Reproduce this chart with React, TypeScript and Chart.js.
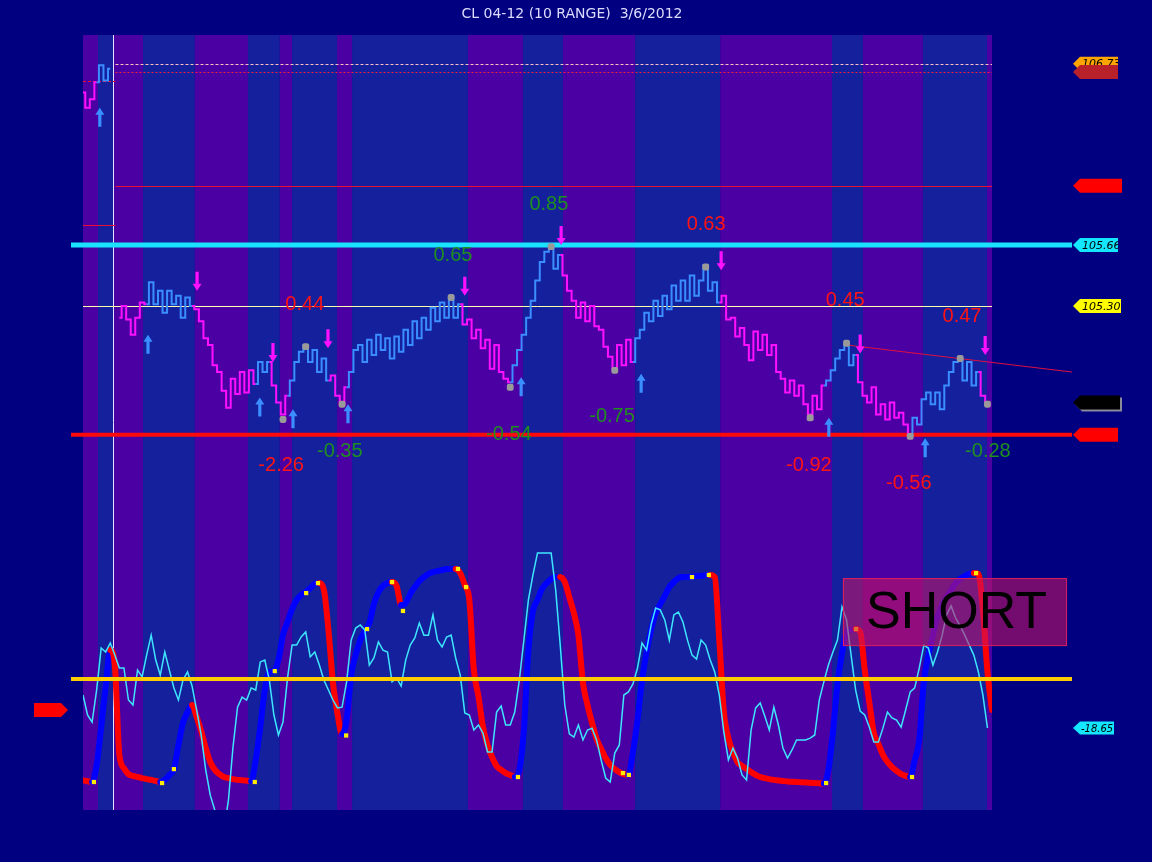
import React, { useEffect, useRef } from 'react';
import { Chart, registerables } from 'chart.js';
Chart.register(...registerables);

const TITLE = 'CL 04-12 (10 RANGE)  3/6/2012';

// price range bars (close per bar), null = session gap
const priceValues: (number | null)[] = [
  106.56, 106.47, 106.52, 106.62, 106.72, 106.63, 106.70, null, 105.23, 105.30,
  105.22, 105.13, 105.23, 105.32, 105.31, 105.44, 105.31, 105.39, 105.26, 105.39,
  105.31, 105.36, 105.23, 105.35, 105.30, 105.28, 105.21, 105.11, 105.07, 104.95,
  104.91, 104.80, 104.70, 104.87, 104.78, 104.91, 104.79, 104.92, 104.84, 104.97,
  104.91, 104.97, 104.83, 104.73, 104.66, 104.77, 104.86, 104.97, 105.03, 105.07,
  104.97, 105.04, 104.91, 104.99, 104.86, 104.89, 104.77, 104.72, 104.82, 104.91,
  105.04, 105.07, 104.97, 105.10, 105.01, 105.13, 105.04, 105.11, 104.99, 105.12,
  105.03, 105.16, 105.07, 105.21, 105.11, 105.23, 105.16, 105.29, 105.21, 105.32,
  105.23, 105.35, 105.23, 105.31, 105.19, 105.22, 105.11, 105.16, 105.05, 105.10,
  104.93, 105.07, 104.91, 104.87, 104.85, 104.95, 105.04, 105.13, 105.23, 105.33,
  105.45, 105.56, 105.62, 105.65, 105.52, 105.60, 105.48, 105.39, 105.33, 105.23,
  105.32, 105.21, 105.30, 105.18, 105.16, 105.06, 105.00, 104.93, 105.07, 104.95,
  105.10, 104.97, 105.11, 105.16, 105.26, 105.21, 105.33, 105.24, 105.36, 105.28,
  105.42, 105.33, 105.45, 105.33, 105.48, 105.36, 105.45, 105.54, 105.39, 105.44,
  105.32, 105.36, 105.22, 105.23, 105.12, 105.17, 105.07, 104.98, 105.15, 105.04,
  105.13, 105.01, 105.07, 104.91, 104.87, 104.79, 104.86, 104.77, 104.83, 104.72,
  104.66, 104.77, 104.69, 104.83, 104.86, 104.92, 104.99, 105.04, 105.08, 104.95,
  105.01, 104.85, 104.77, 104.73, 104.82, 104.66, 104.72, 104.63, 104.73, 104.64,
  104.67, 104.60, 104.54, 104.64, 104.60, 104.75, 104.79, 104.72, 104.79, 104.69,
  104.83, 104.91, 104.97, 104.99, 104.86, 104.97, 104.83, 104.91, 104.77, 104.72,
];

// bars in down-trend (magenta)
const downRanges: [number, number][] = [
  [1, 3], [9, 14], [25, 38], [42, 45], [55, 58], [84, 94], [106, 121], [141, 163], [171, 182], [198, 199],
];

// session colour breaks (bar units)
const sessionBreaks = [0, 3.3, 6.6, 13.2, 24.6, 36.3, 43.3, 46.0, 55.9, 59.2, 84.7, 96.8, 105.6, 121.5, 140.2, 164.8, 171.6, 184.8, 198.9, 200];

// swing pivots
const pivotBars = [44, 49, 57, 81, 94, 103, 117, 137, 160, 168, 182, 193, 199];
const pivotPrices = [104.63, 105.06, 104.72, 105.35, 104.82, 105.65, 104.92, 105.53, 104.64, 105.08, 104.53, 104.99, 104.72];

// swing labels
const swingLabels = ['0.44', '-2.26', '-0.35', '0.65', '-0.54', '0.85', '-0.75', '0.63', '-0.92', '0.45', '-0.56', '0.47', '-0.28'];
const swingLabelBars = [48.8, 43.6, 56.5, 81.4, 93.7, 102.5, 116.4, 137.1, 159.7, 167.7, 181.7, 193.4, 199.1];
const swingLabelPrices = [105.31, 104.36, 104.44, 105.60, 104.54, 105.90, 104.645, 105.78, 104.36, 105.335, 104.255, 105.24, 104.44];
const swingLabelUp = [false, false, true, true, true, true, true, false, false, false, false, false, true];

// signal arrows
const upArrowBars = [3.7, 14.3, 38.9, 46.2, 58.3, 96.4, 122.8, 164.1, 185.3];
const upArrowPrices = [106.47, 105.13, 104.76, 104.69, 104.72, 104.88, 104.90, 104.64, 104.52];
const downArrowBars = [25.1, 41.8, 53.9, 84.0, 105.2, 140.4, 171.0, 198.5];
const downArrowPrices = [105.39, 104.97, 105.05, 105.36, 105.66, 105.51, 105.02, 105.01];

// horizontal price levels
const priceLevels = [105.66, 104.54, 105.30, 106.01, 106.73, 106.68, 105.78, 106.63];

// trend line
const trendBars = [167.9, 217.6];
const trendPrices = [105.07, 104.91];

// right-hand price tags
const priceTagValues = [106.73, 106.68, 106.01, 105.66, 105.30, 104.73, 104.54];
const priceTagTexts = ['106.73', '', '', '105.66', '105.30', '', ''];

// oscillator (thin cyan)
const oscValues = [
  -6.1, -13.7, -16.4, -4.2, 11.8, 10.3, 13.7, 9.1, 4.2, 4.2,
  -8.0, -9.9, 3.4, 0.8, 9.1, 16.7, 7.2, 1.5, 10.3, 3.4,
  -3.4, -8.0, -0.4, 2.7, -2.7, -11.8, -21.3, -34.6, -44.2, -49.9,
  -57.5, -57.5, -46.1, -25.9, -10.7, -6.9, -8.0, -3.4, -4.2, 6.5,
  7.2, -0.4, -13.7, -21.3, -16.4, 0.4, 12.9, 12.9, 16.0, 17.9,
  8.4, 10.3, 5.3, -0.4, -4.2, -8.0, -11.0, -10.7, -1.1, 14.8,
  19.4, 20.6, 18.7, 5.3, 8.0, 14.1, 11.0, 10.3, -1.1, 0.4,
  -2.7, 7.2, 12.9, 15.6, 21.3, 16.7, 16.7, 24.4, 14.8, 12.2,
  16.0, 16.7, 8.0, 1.5, -12.9, -13.7, -19.4, -17.5, -20.6, -27.8,
  -27.8, -12.6, -10.3, -17.5, -17.5, -12.6, -0.4, 14.8, 30.1, 39.6,
  48.0, 48.0, 48.0, 48.0, 33.9, 12.9, -9.9, -20.9, -22.1, -17.5,
  -23.2, -19.4, -18.7, -23.2, -30.8, -37.7, -39.2, -28.2, -25.1, -6.1,
  -4.9, -1.9, 4.2, 13.7, 11.0, 20.6, 27.0, 26.3, 22.5, 14.8,
  24.4, 25.5, 21.7, 14.8, 9.1, 7.6, 14.8, 12.9, 7.2, 2.7,
  -6.1, -20.2, -30.8, -26.3, -30.1, -36.5, -38.4, -19.4, -11.0, -9.1,
  -14.1, -19.4, -10.7, -17.5, -26.3, -30.1, -27.0, -23.2, -23.2, -23.2,
  -22.5, -21.3, -8.0, -1.1, 5.3, 10.3, 14.8, 27.4, 22.5, 9.1,
  -4.2, -12.2, -13.7, -18.3, -24.0, -24.0, -18.7, -12.6, -14.8, -15.6,
  -18.3, -11.8, -4.9, -3.4, 4.2, 12.9, 11.8, 5.3, 10.3, 16.4,
  24.4, 27.8, 23.2, 20.2, 16.7, 12.9, 9.1, 2.7, -6.1, -18.65,
];

// smoothed signal (thick blue/red)
const signalValues = [
  -38.6, -38.9, -39.2, -32.7, -18.3, -2.7, 11.0, 5.3, -28.9, -33.9,
  -36.2, -36.9, -37.3, -37.7, -38.1, -38.4, -38.8, -39.2, -38.4, -36.5,
  -34.3, -25.1, -16.7, -12.6, -9.9, -14.5, -19.8, -26.3, -31.6, -34.6,
  -36.2, -37.3, -37.7, -38.1, -38.4, -38.5, -38.7, -38.9, -30.8, -18.3,
  -4.2, 2.7, 3.0, 7.2, 16.7, 21.7, 26.6, 30.1, 32.0, 33.1,
  34.6, 36.2, 36.5, 33.9, 18.7, -1.5, -13.3, -21.0, -15.6, 1.5,
  9.1, 14.8, 18.3, 21.3, 28.5, 33.1, 35.4, 36.5, 36.9, 35.4,
  28.2, 28.9, 32.4, 35.0, 37.3, 38.8, 40.0, 40.7, 41.1, 41.5,
  41.9, 41.9, 41.9, 40.3, 35.8, 30.1, 3.4, -6.5, -18.3, -25.1,
  -29.7, -33.1, -34.6, -35.8, -36.5, -37.3, -34.6, -19.4, 11.0, 25.9,
  30.1, 34.3, 36.5, 38.1, 38.8, 38.8, 36.9, 31.2, 25.1, 16.7,
  -1.5, -9.9, -16.7, -22.8, -26.6, -30.1, -32.7, -34.3, -35.4, -36.2,
  -36.5, -27.8, -15.6, -0.4, 10.3, 18.7, 25.1, 28.5, 31.6, 35.0,
  36.9, 38.4, 38.8, 38.8, 38.8, 39.2, 39.2, 39.6, 39.6, 38.8,
  14.8, -12.6, -22.5, -27.8, -31.6, -33.1, -34.3, -35.4, -36.5, -37.3,
  -37.7, -38.1, -38.4, -38.6, -38.8, -39.0, -39.1, -39.2, -39.3, -39.4,
  -39.5, -39.6, -39.7, -39.8, -34.6, -20.2, -1.9, 9.9, 17.9, 18.7,
  19.0, 17.9, 3.4, -8.8, -20.6, -24.7, -28.9, -31.6, -33.5, -35.0,
  -36.2, -36.9, -37.3, -30.8, -23.2, -1.1, 9.1, 16.7, 23.6, 28.2,
  31.2, 33.9, 36.5, 38.1, 39.2, 40.0, 40.3, 40.0, 26.3, 2.7,
  -11.8,
];

// turning point markers on the signal
const turnBars = [2.4, 17.4, 20.0, 37.8, 42.2, 49.1, 51.7, 57.9, 62.5, 68.0, 70.4, 82.5, 84.3, 95.7, 118.8, 120.1, 134.0, 137.7, 163.5, 170.1, 182.4, 196.5];
const turnValues = [-39.2, -39.6, -34.3, -39.2, 3.0, 32.7, 36.5, -21.5, 19.0, 36.9, 25.9, 41.9, 35.0, -37.3, -35.8, -36.5, 38.8, 39.6, -39.6, 19.0, -37.3, 40.3];

const OSC_ZERO = 0;
const SIGNAL_TEXT = 'SHORT';
const signalBoxBars = [167.2, 216.3];
const signalBoxOsc = [12.9, 38.4];

const PRICE_MIN = 102.3255;
const PRICE_MAX = 106.899;
const OSC_MIN = -49.86;
const OSC_MAX = 245.12;

const NAVY = '#000080';
const PURPLE = '#4a00a3';
const BLUE_BAND = '#15209d';
const UP_COL = '#3b8eff';
const DOWN_COL = '#ff10ff';

const isDown = (i: number) => downRanges.some(([a, b]) => i >= a && i <= b);

function tagPath(ctx: CanvasRenderingContext2D, tipX: number, y: number, w: number, h: number, pointLeft: boolean) {
  const n = 7;
  const d = pointLeft ? 1 : -1;
  ctx.beginPath();
  ctx.moveTo(tipX, y);
  ctx.lineTo(tipX + d * n, y - h / 2);
  ctx.lineTo(tipX + d * w, y - h / 2);
  ctx.lineTo(tipX + d * w, y + h / 2);
  ctx.lineTo(tipX + d * n, y + h / 2);
  ctx.closePath();
}

function drawArrow(ctx: CanvasRenderingContext2D, x: number, tipY: number, up: boolean, color: string) {
  const len = 19, head = 7, hw = 4.5, sw = 1.6;
  const d = up ? 1 : -1;
  ctx.fillStyle = color;
  ctx.beginPath();
  ctx.moveTo(x, tipY);
  ctx.lineTo(x + hw, tipY + d * head);
  ctx.lineTo(x + sw, tipY + d * head);
  ctx.lineTo(x + sw, tipY + d * len);
  ctx.lineTo(x - sw, tipY + d * len);
  ctx.lineTo(x - sw, tipY + d * head);
  ctx.lineTo(x - hw, tipY + d * head);
  ctx.closePath();
  ctx.fill();
}

const levelStyles = [
  { color: '#19e3ff', width: 5, dash: [] as number[], span: 'wide' },
  { color: '#ff0a0a', width: 4, dash: [], span: 'wide' },
  { color: '#ffffb0', width: 1, dash: [], span: 'full' },
  { color: '#ec1030', width: 1, dash: [], span: 'after' },
  { color: '#ffc0c0', width: 1, dash: [3, 2], span: 'after' },
  { color: '#ec2040', width: 1, dash: [2, 2], span: 'after' },
  { color: '#ec1030', width: 1, dash: [], span: 'before' },
  { color: '#ec1030', width: 1, dash: [3, 2], span: 'before' },
];

const tagStyles = [
  { fill: '#ffa500', w: 45 },
  { fill: '#b8202a', w: 45 },
  { fill: '#ff0000', w: 49 },
  { fill: '#14e6ff', w: 45 },
  { fill: '#ffff00', w: 48 },
  { fill: '#000000', w: 47 },
  { fill: '#ff0000', w: 45 },
];

const bgPlugin = {
  id: 'bgPlugin',
  beforeDatasetsDraw(chart: any) {
    const { ctx, chartArea: a, scales } = chart;
    const x = scales.x, yP = scales.yP;
    ctx.save();
    ctx.fillStyle = NAVY;
    ctx.fillRect(0, 0, chart.width, chart.height);
    for (let i = 0; i < sessionBreaks.length - 1; i++) {
      const x0 = x.getPixelForValue(sessionBreaks[i]);
      const x1 = x.getPixelForValue(sessionBreaks[i + 1]);
      ctx.fillStyle = i % 2 === 0 ? PURPLE : BLUE_BAND;
      ctx.fillRect(x0, a.top, x1 - x0, a.bottom - a.top);
    }
    const sx = Math.round(x.getPixelForValue(sessionBreaks[2])) + 0.5;
    ctx.strokeStyle = '#e4e4ff';
    ctx.lineWidth = 1;
    ctx.beginPath();
    ctx.moveTo(sx, a.top);
    ctx.lineTo(sx, a.bottom);
    ctx.stroke();
    priceLevels.forEach((v, i) => {
      const st = levelStyles[i];
      let y = yP.getPixelForValue(v);
      if (st.width === 1) y = Math.round(y) + 0.5;
      let x0 = a.left, x1 = a.right;
      if (st.span === 'wide') { x0 = a.left - 12; x1 = a.right + 80; }
      if (st.span === 'after') { x0 = sx + 2; }
      if (st.span === 'before') { x1 = sx + 2; }
      ctx.strokeStyle = st.color;
      ctx.lineWidth = st.width;
      ctx.setLineDash(st.dash);
      ctx.beginPath();
      ctx.moveTo(x0, y);
      ctx.lineTo(x1, y);
      ctx.stroke();
    });
    ctx.setLineDash([]);
    ctx.fillStyle = '#dcdcff';
    ctx.font = '14px "DejaVu Sans", sans-serif';
    ctx.textAlign = 'center';
    ctx.textBaseline = 'middle';
    ctx.fillText(TITLE, chart.width / 2 - 4, 14);
    ctx.restore();
  },
  afterDatasetsDraw(chart: any) {
    const { ctx, chartArea: a, scales } = chart;
    const x = scales.x, yP = scales.yP, yO = scales.yO;
    ctx.save();
    // zero line of oscillator
    const y0 = yO.getPixelForValue(OSC_ZERO);
    ctx.strokeStyle = '#ffcc00';
    ctx.lineWidth = 4;
    ctx.beginPath();
    ctx.moveTo(a.left - 12, y0);
    ctx.lineTo(a.right + 80, y0);
    ctx.stroke();
    // arrows
    upArrowBars.forEach((b, i) => drawArrow(ctx, x.getPixelForValue(b), yP.getPixelForValue(upArrowPrices[i]), true, UP_COL));
    downArrowBars.forEach((b, i) => drawArrow(ctx, x.getPixelForValue(b), yP.getPixelForValue(downArrowPrices[i]), false, DOWN_COL));
    // swing labels
    ctx.font = '20px "Liberation Sans", Arial, sans-serif';
    ctx.textAlign = 'center';
    ctx.textBaseline = 'middle';
    swingLabels.forEach((t, i) => {
      ctx.fillStyle = swingLabelUp[i] ? '#1f8f1f' : '#ff1414';
      ctx.fillText(t, x.getPixelForValue(swingLabelBars[i]), yP.getPixelForValue(swingLabelPrices[i]));
    });
    // right price tags
    const tipX = a.right + 81;
    ctx.font = 'italic 11px "DejaVu Sans", sans-serif';
    ctx.textAlign = 'left';
    priceTagValues.forEach((v, i) => {
      const st = tagStyles[i];
      const y = yP.getPixelForValue(v);
      if (st.fill === '#000000') {
        ctx.fillStyle = '#8a8a9a';
        tagPath(ctx, tipX + 2, y + 2, st.w, 14, true);
        ctx.fill();
      }
      ctx.fillStyle = st.fill;
      tagPath(ctx, tipX, y, st.w, 14, true);
      ctx.fill();
      if (priceTagTexts[i]) {
        ctx.save();
        tagPath(ctx, tipX, y, st.w, 14, true);
        ctx.clip();
        ctx.fillStyle = '#000000';
        ctx.fillText(priceTagTexts[i], tipX + 9, y + 1);
        ctx.restore();
      }
    });
    // oscillator tags
    const lastOsc = oscValues[oscValues.length - 1];
    const yc = yO.getPixelForValue(lastOsc);
    ctx.fillStyle = '#14e6ff';
    tagPath(ctx, tipX, yc, 41, 13, true);
    ctx.fill();
    ctx.save();
    tagPath(ctx, tipX, yc, 41, 13, true);
    ctx.clip();
    ctx.fillStyle = '#000000';
    ctx.font = 'italic 10px "DejaVu Sans", sans-serif';
    ctx.fillText(lastOsc.toFixed(2), tipX + 8, yc + 1);
    ctx.restore();
    const lastSig = signalValues[signalValues.length - 1];
    ctx.fillStyle = '#ff0000';
    tagPath(ctx, a.left - 15, yO.getPixelForValue(lastSig), 34, 14, false);
    ctx.fill();
    // signal box
    const bx0 = x.getPixelForValue(signalBoxBars[0]);
    const bx1 = x.getPixelForValue(signalBoxBars[1]);
    const by0 = yO.getPixelForValue(signalBoxOsc[1]);
    const by1 = yO.getPixelForValue(signalBoxOsc[0]);
    ctx.fillStyle = 'rgba(200, 20, 100, 0.58)';
    ctx.fillRect(bx0, by0, bx1 - bx0, by1 - by0);
    ctx.strokeStyle = '#e0205a';
    ctx.lineWidth = 1;
    ctx.strokeRect(bx0 + 0.5, by0 + 0.5, bx1 - bx0, by1 - by0);
    ctx.fillStyle = '#000000';
    ctx.font = '52px "Liberation Sans", Arial, sans-serif';
    ctx.textAlign = 'center';
    ctx.textBaseline = 'middle';
    ctx.fillText(SIGNAL_TEXT, (bx0 + bx1) / 2 + 2, (by0 + by1) / 2 + 2);
    ctx.restore();
  },
};

export default function App() {
  const ref = useRef<HTMLCanvasElement>(null);
  useEffect(() => {
    document.body.style.margin = '0';
    document.body.style.background = NAVY;
    const canvas = ref.current!;
    const chart = new Chart(canvas, {
      type: 'line',
      data: {
        datasets: [
          {
            label: 'Price',
            data: priceValues.map((v, i) => ({ x: i, y: v })) as any,
            yAxisID: 'yP',
            borderColor: UP_COL,
            borderWidth: 2,
            stepped: 'middle',
            spanGaps: false,
            pointRadius: 0,
            segment: { borderColor: (c: any) => (isDown(c.p1DataIndex) ? DOWN_COL : UP_COL) },
            order: 3,
          } as any,
          {
            label: 'Pivots',
            data: pivotBars.map((b, i) => ({ x: b, y: pivotPrices[i] })),
            yAxisID: 'yP',
            showLine: false,
            pointStyle: 'rectRounded',
            pointRadius: 4,
            pointBackgroundColor: '#9a9a9a',
            pointBorderColor: '#9a9a9a',
            pointBorderWidth: 0,
            order: 1,
          } as any,
          {
            label: 'Trend',
            data: trendBars.map((b, i) => ({ x: b, y: trendPrices[i] })),
            yAxisID: 'yP',
            borderColor: '#e01040',
            borderWidth: 1,
            pointRadius: 0,
            clip: false,
            order: 2,
          } as any,
          {
            label: 'Oscillator',
            data: oscValues.map((v, i) => ({ x: i, y: v })),
            yAxisID: 'yO',
            borderColor: '#3ee6ff',
            borderWidth: 1.5,
            pointRadius: 0,
            order: 1,
          } as any,
          {
            label: 'Signal',
            data: signalValues.map((v, i) => ({ x: i, y: v })),
            yAxisID: 'yO',
            borderColor: '#0000ff',
            borderWidth: 6,
            pointRadius: 0,
            cubicInterpolationMode: 'monotone',
            borderCapStyle: 'round',
            borderJoinStyle: 'round',
            segment: { borderColor: (c: any) => (c.p1.parsed.y >= c.p0.parsed.y ? '#0000ff' : '#ff0000') },
            order: 2,
          } as any,
          {
            label: 'Turns',
            data: turnBars.map((b, i) => ({ x: b, y: turnValues[i] })),
            yAxisID: 'yO',
            showLine: false,
            pointStyle: 'rect',
            pointRadius: 3,
            pointBackgroundColor: '#ffee00',
            pointBorderColor: '#ffee00',
            pointBorderWidth: 0,
            order: 0,
          } as any,
        ],
      },
      options: {
        animation: false,
        responsive: false,
        maintainAspectRatio: false,
        devicePixelRatio: 1,
        events: [],
        layout: { padding: { left: 83, right: 160, top: 35, bottom: 52 } },
        plugins: { legend: { display: false }, tooltip: { enabled: false }, title: { display: false } },
        scales: {
          x: { type: 'linear', min: 0, max: 200, display: false },
          yP: { type: 'linear', axis: 'y', min: PRICE_MIN, max: PRICE_MAX, display: false },
          yO: { type: 'linear', axis: 'y', min: OSC_MIN, max: OSC_MAX, display: false },
        } as any,
      },
      plugins: [bgPlugin],
    });
    return () => chart.destroy();
  }, []);
  return (
    <div style={{ position: 'absolute', left: 0, top: 0, width: 1152, height: 862, background: NAVY }}>
      <canvas ref={ref} width={1152} height={862} style={{ display: 'block' }} />
    </div>
  );
}
